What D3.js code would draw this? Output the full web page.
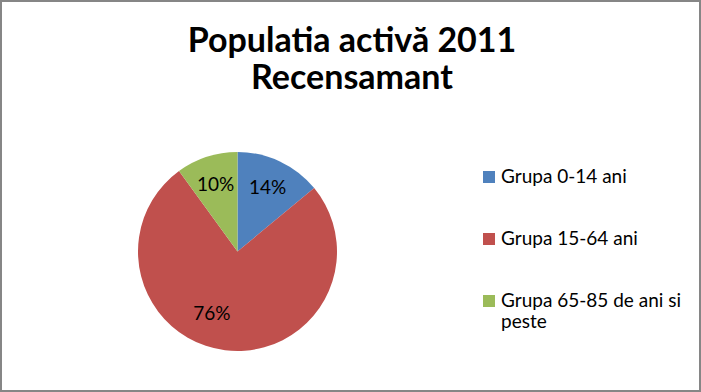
<!DOCTYPE html>
<html>
<head>
<meta charset="utf-8">
<script src="https://cdn.jsdelivr.net/npm/d3@7/dist/d3.min.js"></script>
<style>
  body { margin: 0; background: #fff; }
  svg { display: block; }
</style>
</head>
<body>
<div id="chart"></div>
<script>
// date (procente pe grupe de varsta)
const categorii = ['Grupa 0-14 ani', 'Grupa 15-64 ani', 'Grupa 65-85 de ani si peste'];
const valori = [14, 76, 10];
const culori = ['#4F81BD', '#C0504D', '#9BBB59'];
const titlu = ['Populatia activă 2011', 'Recensamant'];

const width = 701, height = 392;
const font = 'Lato, "Open Sans", sans-serif';

const svg = d3.select('#chart').append('svg')
    .attr('width', width)
    .attr('height', height);

// chenarul graficului
svg.append('rect')
    .attr('x', 1).attr('y', 1)
    .attr('width', width - 2).attr('height', height - 2)
    .attr('fill', '#fff')
    .attr('stroke', '#868686')
    .attr('stroke-width', 2);

// titlu pe doua randuri
svg.append('g')
    .selectAll('text')
    .data(titlu)
    .join('text')
    .attr('x', 352)
    .attr('y', (d, i) => 52 + i * 37)
    .attr('text-anchor', 'middle')
    .style('font-family', font)
    .style('font-weight', '700')
    .style('font-size', '34px')
    .style('fill', '#000')
    .text(d => d);

// placinta - incepe la ora 12, in sensul acelor de ceas
const cx = 237.5, cy = 251.5, r = 99.5;
const pie = d3.pie().sort(null).value(d => d);
const arc = d3.arc().innerRadius(0).outerRadius(r);

const g = svg.append('g').attr('transform', `translate(${cx},${cy})`);
const felii = pie(valori);

g.selectAll('path')
    .data(felii)
    .join('path')
    .attr('d', arc)
    .attr('fill', (d, i) => culori[i]);

// etichetele: ca in Excel, felia mare are eticheta rotita putin spre stanga
const razaEticheta = [0.71, 0.67, 0.71];
const rotireEticheta = [0, 0.27, 0];
const total = d3.sum(valori);
g.selectAll('text')
    .data(felii)
    .join('text')
    .attr('transform', (d, i) => {
        const a = (d.startAngle + d.endAngle) / 2 + rotireEticheta[i];
        const rr = r * razaEticheta[i];
        return `translate(${rr * Math.sin(a)},${-rr * Math.cos(a)})`;
    })
    .attr('text-anchor', 'middle')
    .attr('dy', '0.36em')
    .style('font-family', font)
    .style('font-size', '19px')
    .style('fill', '#000')
    .text(d => Math.round(d.value / total * 100) + '%');

// legenda
const legenda = svg.append('g').attr('transform', 'translate(483,171)');
const randuriLegenda = [['Grupa 0-14 ani'], ['Grupa 15-64 ani'], ['Grupa 65-85 de ani si', 'peste']];

categorii.forEach((c, i) => {
    const rand = legenda.append('g').attr('transform', `translate(0,${i * 62})`);
    rand.append('rect')
        .attr('width', 12).attr('height', 12)
        .attr('fill', culori[i]);
    rand.selectAll('text')
        .data(randuriLegenda[i])
        .join('text')
        .attr('x', 18)
        .attr('y', (d, j) => 11.5 + j * 21)
        .style('font-family', font)
        .style('font-size', '19px')
        .style('fill', '#000')
        .text(d => d);
});
</script>
</body>
</html>
